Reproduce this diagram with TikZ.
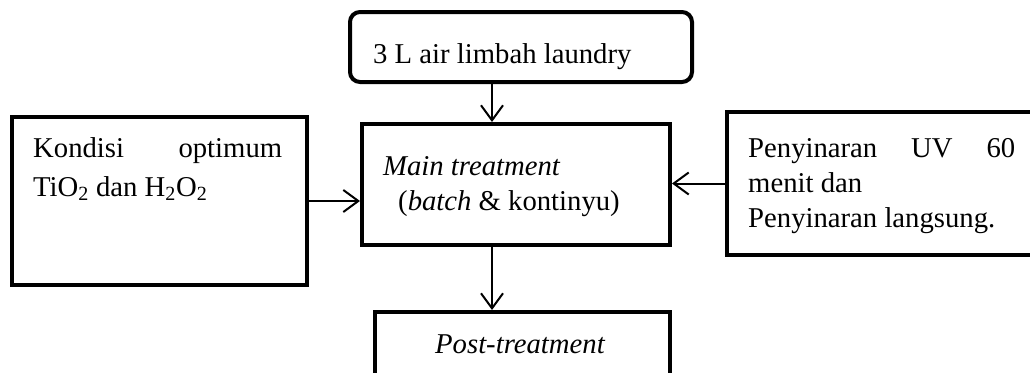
\documentclass[tikz,border=0pt]{standalone}
\usepackage{fontspec}
\setmainfont{Liberation Serif}
\usetikzlibrary{arrows.meta}
\begin{document}
\begin{tikzpicture}[x=1pt,y=-1pt,
  boxa/.style={draw,line width=4pt,inner sep=0pt,anchor=north west},
  conn/.style={line width=2pt,-{Straight Barb[length=15pt,width=22pt,line width=2pt]}},
  txt/.style={inner sep=0pt,anchor=base west,font=\fontsize{28.7}{35}\selectfont}]
\clip (0,0) rectangle (1030,372);
\fill[white] (0,0) rectangle (1030,372);
% boxes
\node[boxa,rounded corners=10pt,minimum width=342pt,minimum height=70pt] (top) at (348,10) {};
\node[boxa,minimum width=308pt,minimum height=121pt] (main) at (360,122) {};
\node[boxa,minimum width=295pt,minimum height=168pt] (left) at (10,115) {};
\node[boxa,minimum width=330pt,minimum height=143pt] (right) at (725,110) {};
\node[boxa,minimum width=295pt,minimum height=90pt] (post) at (373,310) {};
% texts
\node[txt] (ttop) at (373,63) {3 L air limbah laundry};
\node[txt] (tmain1) at (383,175) {\itshape Main treatment};
\node[txt] (tmain2) at (398,210) {(\textit{batch} \& kontinyu)};
\node[txt] (tpost) at (435,353) {\itshape Post-treatment};
\node[txt] (tleft1) at (33,157) {\makebox[249pt][s]{Kondisi optimum}};
\node[txt] (tleft2) at (33,196) {TiO\textsubscript{2} dan H\textsubscript{2}O\textsubscript{2}};
\node[txt] (tright1) at (748,157) {\makebox[267pt][s]{Penyinaran UV 60}};
\node[txt] (tright2) at (748,192) {menit dan};
\node[txt] (tright3) at (748,227) {Penyinaran langsung.};
% connectors
\coordinate (ax) at (492,0);
\draw[conn] (top.south -| ax) -- (main.north -| ax);
\draw[conn] (main.south -| ax) -- (post.north -| ax);
\draw[conn] (left.east) -- (left.east -| main.west);
\draw[conn] (right.west) -- (right.west -| main.east);
\end{tikzpicture}
\end{document}
